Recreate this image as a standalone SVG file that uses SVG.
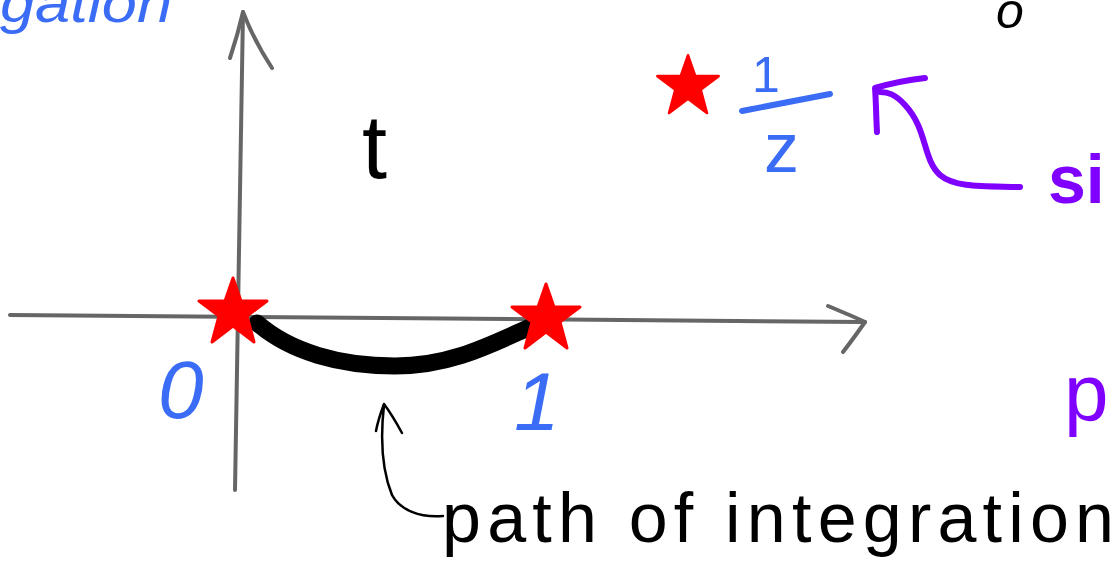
<svg xmlns="http://www.w3.org/2000/svg" width="1118" height="569" viewBox="0 0 1118 569">
<defs>
<style>
.axis{fill:none;stroke:#666;stroke-width:4;stroke-linecap:round;stroke-linejoin:round}
.blue{fill:#3a6cf5;font-family:"Liberation Sans",sans-serif}
.black{fill:#000;font-family:"Liberation Sans",sans-serif}
.purple{fill:#7f00ff;font-family:"Liberation Sans",sans-serif}
.star{fill:#ff0000;stroke:#ff0000;stroke-width:3;stroke-linejoin:round}
.ink{fill:none;stroke-linecap:round;stroke-linejoin:round}
</style>
<polygon id="st" points="0,-34 8,-11 34,-11 14,4 21,30 0,14 -21,30 -14,4 -34,-11 -8,-11"/>
</defs>
<rect width="1118" height="569" fill="#fff"/>
<g id="axes">
<path class="axis" d="M243,12 C241,150 238,300 235,490"/>
<path class="axis" d="M230,58 C236,40 240,25 243,12 C250,30 260,50 272,68"/>
<path class="axis" d="M10,315 C200,318 500,320 865,322"/>
<path class="axis" d="M828,306 C842,312 855,317 865,322 C858,332 850,343 843,352"/>
</g>
<g id="path-of-integration-curve">
<path class="ink" stroke="#000" stroke-width="17" d="M257,323 C290,352 340,366 395,366 C450,366 490,345 530,327"/>
</g>
<g id="stars">
<use href="#st" class="star" transform="translate(233,312)"/>
<use href="#st" class="star" transform="translate(546,318)"/>
<use href="#st" class="star" transform="translate(688,86) scale(0.9)"/>
</g>
<g id="labels">
<text class="blue" x="0" y="22" font-size="56" font-style="italic" textLength="172" lengthAdjust="spacingAndGlyphs">gation</text>
<text class="black" x="996" y="28" font-size="50" font-style="italic">o</text>
<text class="black" x="362" y="178" font-size="90">t</text>
<text class="blue" x="158" y="418" font-size="82" font-style="italic">0</text>
<text class="blue" x="514" y="430" font-size="82" font-style="italic">1</text>
<text class="blue" x="752" y="92" font-size="50">1</text>
<line x1="742" y1="111" x2="830" y2="94" stroke="#3a6cf5" stroke-width="6" stroke-linecap="round"/>
<text class="blue" x="764" y="172" font-size="70">z</text>
<text class="purple" x="1048" y="203" font-size="68" font-weight="bold">si</text>
<text class="purple" x="1064" y="420" font-size="80">p</text>
<text class="black" x="442" y="542" font-size="70" textLength="672" lengthAdjust="spacing">path of integration</text>
</g>
<g id="connectors">
<path class="ink" stroke="#7f00ff" stroke-width="6" d="M1020,187 C985,186 955,188 940,175 C922,158 928,130 905,105 C895,94 888,92 880,92"/>
<path class="ink" stroke="#7f00ff" stroke-width="6" d="M877,132 C876,115 876,100 875,88 C892,83 908,80 925,78"/>
<path class="ink" stroke="#000" stroke-width="2.5" d="M443,516 C420,518 400,510 392,495 C382,470 380,440 384,405"/>
<path class="ink" stroke="#000" stroke-width="2.5" d="M376,431 C378,420 381,412 384,404 C390,412 396,422 402,433"/>
</g>
</svg>
